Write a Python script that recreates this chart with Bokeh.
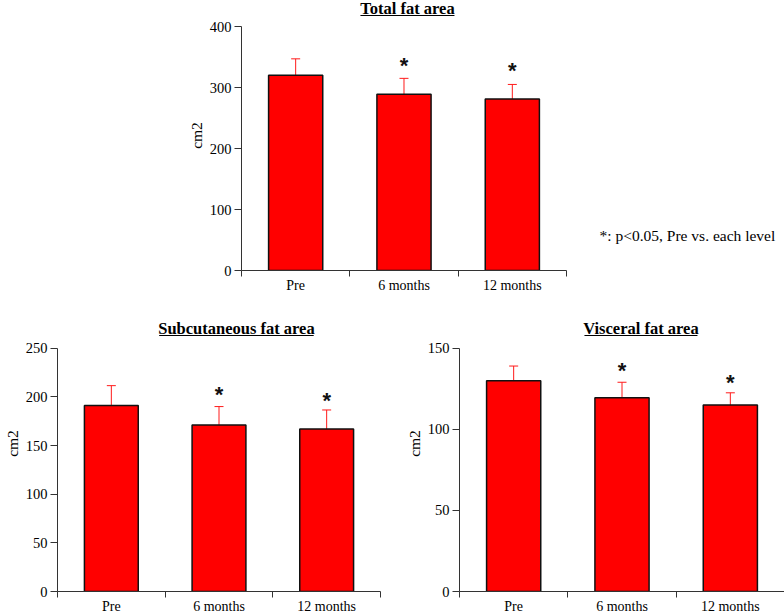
from bokeh.plotting import figure
from bokeh.models import ColumnDataSource, FixedTicker, Whisker, TeeHead, Range1d
from bokeh.layouts import column, row
from bokeh.core.properties import value
from bokeh.embed import file_html
from bokeh.resources import INLINE

# ---------------- data ----------------
categories = ["Pre", "6 months", "12 months"]

total_mean = [320, 289, 281]
total_se = [27, 26, 24]
total_star = [341, 332]          # stars above 6 months, 12 months

subcut_mean = [191, 171, 167]
subcut_se = [20.5, 19, 19.5]
subcut_star = [205, 199]

visceral_mean = [130, 119.5, 115]
visceral_se = [9, 9.5, 7.5]
visceral_star = [138, 131]

total_ticks = [0, 100, 200, 300, 400]
subcut_ticks = [0, 50, 100, 150, 200, 250]
visceral_ticks = [0, 50, 100, 150]

note_text = "*: p<0.05, Pre vs. each level"

SERIF = "Liberation Serif"
AXIS_COL = "#333333"
AXIS_PANEL = 25   # height bokeh reserves for the bottom axis


def build(title, means, ses, stars, ticks, width, height, left, right,
          x_end, y_end, title_x, title_w_px, title_base_px, note=None):
    ymax = ticks[-1]
    p = figure(width=width, height=height, output_backend="svg",
               toolbar_location=None, min_border_left=left,
               min_border_right=right, min_border_top=0,
               min_border_bottom=AXIS_PANEL,
               x_range=Range1d(0, x_end), y_range=Range1d(0, y_end))
    p.outline_line_color = None
    p.grid.visible = False
    p.background_fill_color = "white"
    p.border_fill_color = "white"

    frame_w = width - left - right
    frame_h = height - AXIS_PANEL
    px_x = frame_w / x_end
    px_y = frame_h / y_end

    xs = [0.5, 1.5, 2.5]
    src = ColumnDataSource(dict(
        x=xs, cat=categories, top=means,
        upper=[m + s for m, s in zip(means, ses)],
    ))
    p.vbar(x="x", top="top", width=0.5, bottom=0, source=src,
           fill_color="#ff0000", line_color="#111111", line_width=1.5)
    w = Whisker(source=src, base="x", upper="upper", lower="top",
                dimension="height", line_color="#ff1a1a", line_width=1,
                lower_head=None,
                upper_head=TeeHead(size=9, line_color="#ff1a1a", line_width=1))
    p.add_layout(w)

    # significance stars
    p.text(x=xs[1:], y=stars, text=["*", "*"], text_align="center",
           text_baseline="middle", text_font=value("Liberation Sans"),
           text_font_style="bold", text_font_size="22px", y_offset=3,
           text_color="#111111")

    # title with underline (text anchor renders ~5px above the visual baseline)
    ty = y_end - (title_base_px - 5) / px_y
    p.text(x=[title_x], y=[ty], text=[title], text_align="center",
           text_baseline="alphabetic", text_font=value(SERIF),
           text_font_style="bold", text_font_size="16.5px", text_color="black")
    half = title_w_px / 2 / px_x
    uy = y_end - (title_base_px + 2) / px_y
    p.segment(x0=[title_x - half], y0=[uy], x1=[title_x + half], y1=[uy],
              line_color="black", line_width=1)

    if note is not None:
        p.text(x=[note[0]], y=[note[1]], text=[note_text], text_align="left",
               text_baseline="middle", text_font=value(SERIF),
               text_font_size="15.5px", text_color="black")

    # axes
    xa = p.xaxis[0]
    xa.ticker = FixedTicker(ticks=xs, minor_ticks=[0, 1, 2, 3])
    xa.major_label_overrides = {0.5: categories[0], 1.5: categories[1],
                                2.5: categories[2]}
    xa.bounds = (0, 3)
    xa.major_tick_line_color = None
    xa.major_tick_out = 6
    xa.major_tick_in = 0
    xa.minor_tick_out = 6
    xa.minor_tick_in = 0
    xa.minor_tick_line_color = AXIS_COL
    xa.axis_line_color = AXIS_COL
    xa.major_label_standoff = 1
    xa.major_label_text_font = SERIF
    xa.major_label_text_font_size = "14px"
    xa.major_label_text_color = "black"

    ya = p.yaxis[0]
    ya.ticker = FixedTicker(ticks=ticks)
    ya.bounds = (0, ymax)
    ya.major_tick_out = 7
    ya.major_tick_in = 0
    ya.minor_tick_line_color = None
    ya.axis_line_color = AXIS_COL
    ya.major_tick_line_color = AXIS_COL
    ya.major_label_standoff = 3
    ya.major_label_text_font = SERIF
    ya.major_label_text_font_size = "14.5px"
    ya.major_label_text_color = "black"
    ya.axis_label = "cm2"
    ya.axis_label_text_font = SERIF
    ya.axis_label_text_font_style = "normal"
    ya.axis_label_text_font_size = "15.5px"
    ya.axis_label_text_color = "black"
    ya.axis_label_standoff = 2
    return p


# top chart: frame x from 241 to 784, y0 at 270
top = build("Total fat area", total_mean, total_se, total_star, total_ticks,
            width=784, height=295, left=241, right=0,
            x_end=543 / 108.33, y_end=270 / 0.61,
            title_x=1.532, title_w_px=94, title_base_px=13,
            note=(3.305, 57))

# bottom charts: frames 296 px tall
bl = build("Subcutaneous fat area", subcut_mean, subcut_se, subcut_star,
           subcut_ticks, width=402, height=321, left=56, right=22,
           x_end=3, y_end=296 / 0.9733,
           title_x=1.662, title_w_px=155, title_base_px=38)

br = build("Visceral fat area", visceral_mean, visceral_se, visceral_star,
           visceral_ticks, width=382, height=321, left=57, right=0,
           x_end=3, y_end=296 / 1.622,
           title_x=1.675, title_w_px=113, title_base_px=38)

layout = column(top, row(bl, br))

open("out.html", "w").write(file_html(layout, INLINE))
